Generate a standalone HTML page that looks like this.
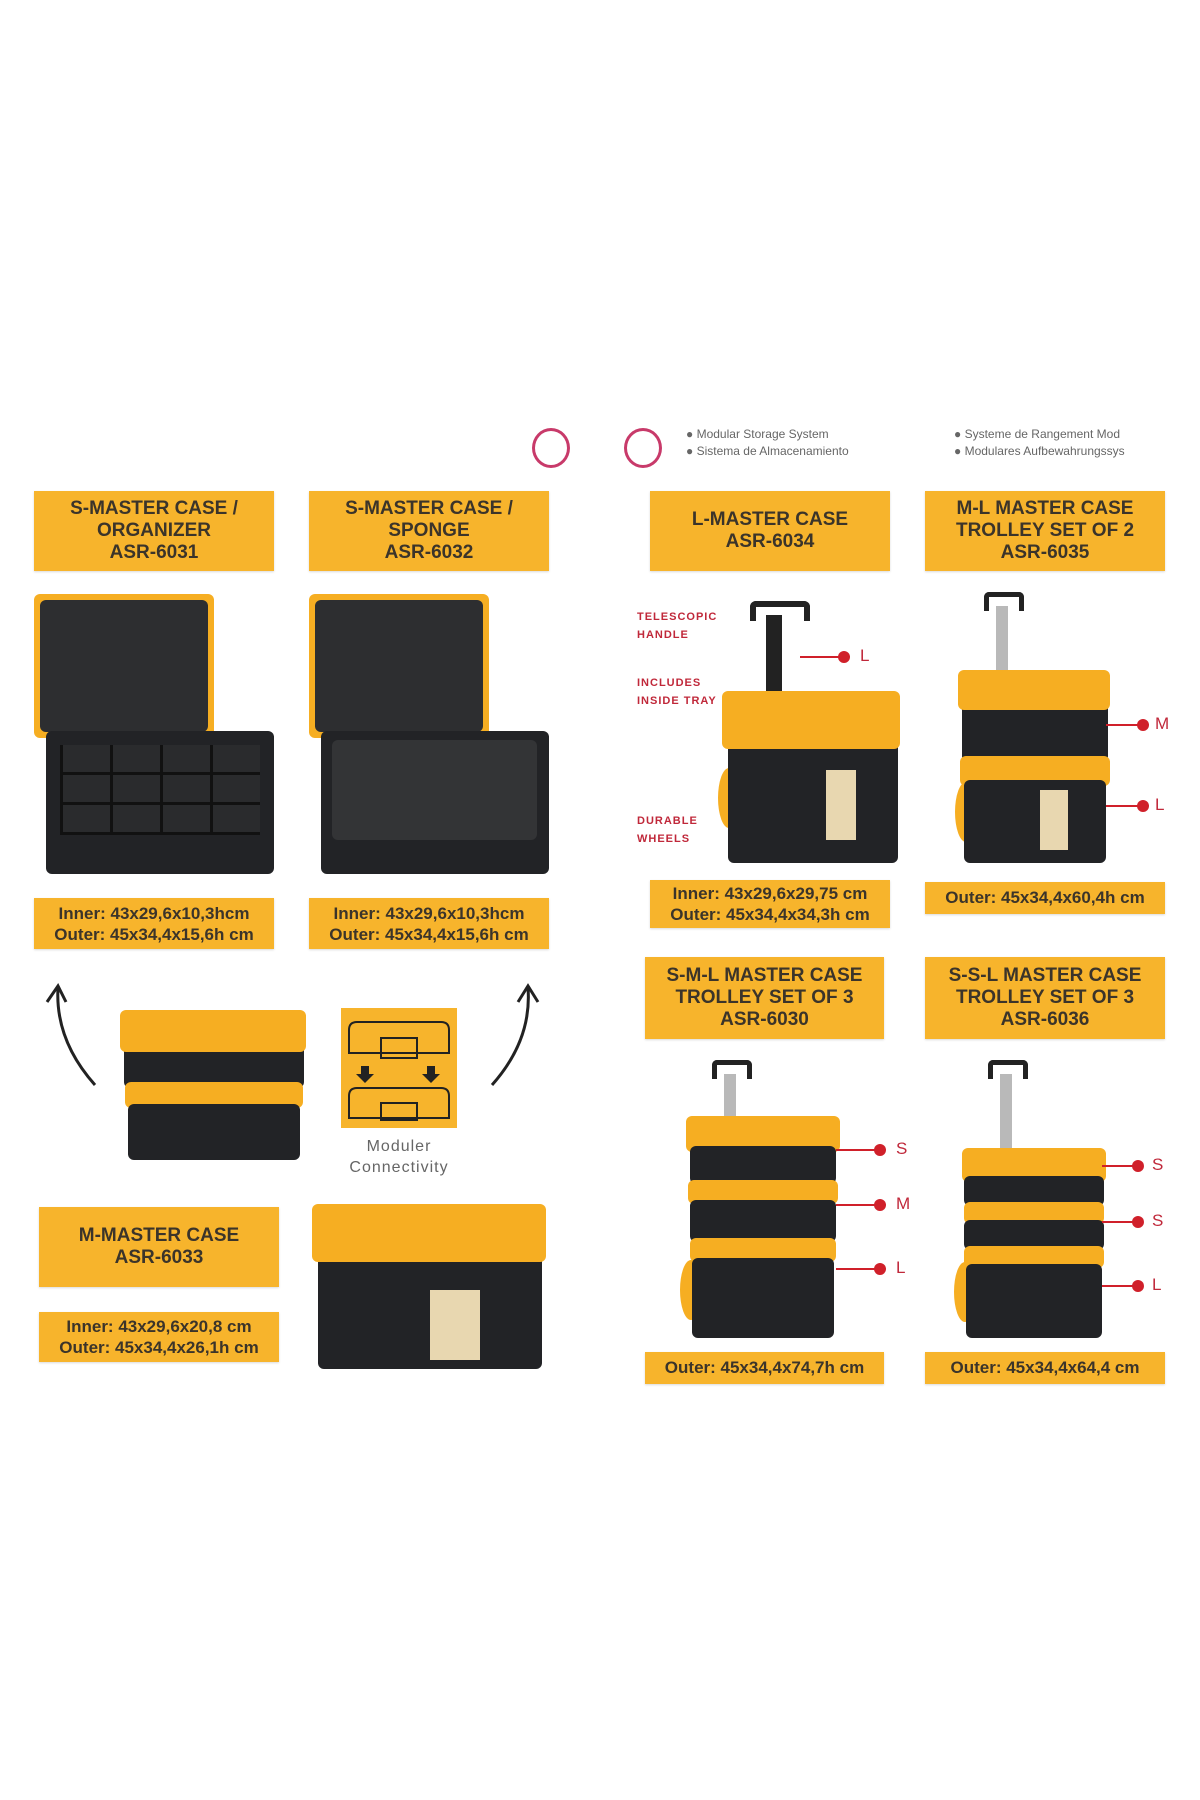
<!DOCTYPE html>
<html><head><meta charset="utf-8"><style>
body{margin:0;background:#fff;}
#p{position:relative;width:1200px;height:1800px;overflow:hidden;font-family:"Liberation Sans",sans-serif;}
.a{position:absolute;}
.lb{position:absolute;background:#f7b42c;color:#3b342a;font-weight:bold;font-size:19px;line-height:22px;text-align:center;display:flex;align-items:center;justify-content:center;box-shadow:0 1px 2px rgba(0,0,0,.15);}
.dk{position:absolute;background:#222326;border-radius:6px;}
.or{position:absolute;background:#f6ae22;border-radius:6px;}
.rl{position:absolute;height:2px;background:#d0202a;}
.rd{position:absolute;width:12px;height:12px;border-radius:50%;background:#d0202a;}
.lt{position:absolute;color:#c0283a;font-size:17px;}
.red{position:absolute;color:#c0283a;font-size:11px;font-weight:bold;letter-spacing:1px;line-height:18px;}
.bl{position:absolute;color:#666;font-size:12px;line-height:17px;}
</style></head><body><div id="p">
<div class="a" style="left:532px;top:428px;width:32px;height:34px;border:3px solid #c83a6a;border-radius:50%;"></div>
<div class="a" style="left:624px;top:428px;width:32px;height:34px;border:3px solid #c83a6a;border-radius:50%;"></div>
<div class="bl" style="left:686px;top:426px;">● Modular Storage System<br>● Sistema de Almacenamiento</div>
<div class="bl" style="left:954px;top:426px;">● Systeme de Rangement Mod<br>● Modulares Aufbewahrungssys</div>

<div class="lb" style="left:34px;top:491px;width:240px;height:80px;">S-MASTER CASE /<br>ORGANIZER<br>ASR-6031</div>
<div class="lb" style="left:309px;top:491px;width:240px;height:80px;">S-MASTER CASE /<br>SPONGE<br>ASR-6032</div>
<div class="lb" style="left:650px;top:491px;width:240px;height:80px;">L-MASTER CASE<br>ASR-6034</div>
<div class="lb" style="left:925px;top:491px;width:240px;height:80px;">M-L MASTER CASE<br>TROLLEY SET OF 2<br>ASR-6035</div>

<div class="or" style="left:34px;top:594px;width:180px;height:144px;"></div>
<div class="dk" style="left:40px;top:600px;width:168px;height:132px;background:#2d2e30;"></div>
<div class="dk" style="left:46px;top:731px;width:228px;height:143px;"></div>
<div class="a" style="left:60px;top:745px;width:200px;height:90px;background:repeating-linear-gradient(90deg,#111 0 3px,transparent 3px 50px),repeating-linear-gradient(0deg,#111 0 3px,#2a2b2d 3px 30px);"></div>
<div class="or" style="left:309px;top:594px;width:180px;height:144px;"></div>
<div class="dk" style="left:315px;top:600px;width:168px;height:132px;background:#2d2e30;"></div>
<div class="dk" style="left:321px;top:731px;width:228px;height:143px;"></div>
<div class="a" style="left:332px;top:740px;width:205px;height:100px;background:#333436;border-radius:6px;"></div>

<div class="lb" style="left:34px;top:898px;width:240px;height:51px;font-size:17px;line-height:21px;">Inner: 43x29,6x10,3hcm<br>Outer: 45x34,4x15,6h cm</div>
<div class="lb" style="left:309px;top:898px;width:240px;height:51px;font-size:17px;line-height:21px;">Inner: 43x29,6x10,3hcm<br>Outer: 45x34,4x15,6h cm</div>

<div class="red" style="left:637px;top:608px;">TELESCOPIC<br>HANDLE</div>
<div class="red" style="left:637px;top:674px;">INCLUDES<br>INSIDE TRAY</div>
<div class="red" style="left:637px;top:812px;">DURABLE<br>WHEELS</div>
<div class="a" style="left:750px;top:601px;width:48px;height:14px;border:6px solid #222;border-bottom:none;border-radius:6px 6px 0 0;"></div>
<div class="a" style="left:766px;top:615px;width:16px;height:90px;background:#222;"></div>
<div class="or" style="left:718px;top:768px;width:22px;height:60px;border-radius:50%;"></div>
<div class="dk" style="left:728px;top:730px;width:170px;height:133px;"></div>
<div class="or" style="left:722px;top:691px;width:178px;height:58px;"></div>
<div class="a" style="left:826px;top:770px;width:30px;height:70px;background:#e8d7b0;"></div>
<div class="rl" style="left:800px;top:656px;width:42px;"></div><div class="rd" style="left:838px;top:651px;"></div>
<div class="lt" style="left:860px;top:646px;">L</div>

<div class="a" style="left:984px;top:592px;width:30px;height:14px;border:5px solid #222;border-bottom:none;border-radius:5px 5px 0 0;"></div>
<div class="a" style="left:996px;top:606px;width:12px;height:80px;background:#b9b9b9;"></div>
<div class="or" style="left:955px;top:782px;width:22px;height:60px;border-radius:50%;"></div>
<div class="dk" style="left:962px;top:700px;width:146px;height:62px;"></div>
<div class="or" style="left:958px;top:670px;width:152px;height:40px;"></div>
<div class="or" style="left:960px;top:756px;width:150px;height:30px;"></div>
<div class="dk" style="left:964px;top:780px;width:142px;height:83px;"></div>
<div class="a" style="left:1040px;top:790px;width:28px;height:60px;background:#e8d7b0;"></div>
<div class="rl" style="left:1106px;top:724px;width:38px;"></div><div class="rd" style="left:1137px;top:719px;"></div>
<div class="lt" style="left:1155px;top:714px;">M</div>
<div class="rl" style="left:1106px;top:805px;width:38px;"></div><div class="rd" style="left:1137px;top:800px;"></div>
<div class="lt" style="left:1155px;top:795px;">L</div>

<div class="lb" style="left:650px;top:880px;width:240px;height:48px;font-size:17px;line-height:21px;">Inner: 43x29,6x29,75 cm<br>Outer: 45x34,4x34,3h cm</div>
<div class="lb" style="left:925px;top:882px;width:240px;height:32px;font-size:17px;">Outer: 45x34,4x60,4h cm</div>

<svg class="a" style="left:0;top:970px;" width="560" height="130"><g fill="none" stroke="#222" stroke-width="3"><path d="M95 115 Q55 70 58 18"/><path d="M47 32 L58 16 L66 32"/><path d="M492 115 Q532 70 528 18"/><path d="M518 32 L528 16 L538 32"/></g></svg>

<div class="dk" style="left:124px;top:1040px;width:180px;height:48px;"></div>
<div class="or" style="left:120px;top:1010px;width:186px;height:42px;"></div>
<div class="or" style="left:125px;top:1082px;width:178px;height:26px;"></div>
<div class="dk" style="left:128px;top:1104px;width:172px;height:56px;"></div>

<div class="a" style="left:341px;top:1008px;width:116px;height:120px;background:#f7b42c;"></div>
<svg class="a" style="left:341px;top:1008px;" width="116" height="120"><g fill="none" stroke="#222" stroke-width="2"><path d="M8 45 V22 Q8 14 16 14 H100 Q108 14 108 22 V45 Z"/><path d="M40 30 H76 V50 H40Z"/><path d="M8 110 V88 Q8 80 16 80 H100 Q108 80 108 88 V110 Z"/><path d="M40 95 H76 V112 H40Z"/></g><path d="M20 58 h8 v8 h5 l-9 9 -9-9 h5z M86 58 h8 v8 h5 l-9 9 -9-9 h5z" fill="#222"/></svg>
<div class="a" style="left:330px;top:1136px;width:138px;text-align:center;color:#666;font-size:16px;line-height:21px;letter-spacing:1px;">Moduler<br>Connectivity</div>

<div class="lb" style="left:39px;top:1207px;width:240px;height:80px;">M-MASTER CASE<br>ASR-6033</div>
<div class="lb" style="left:39px;top:1312px;width:240px;height:50px;font-size:17px;line-height:21px;">Inner: 43x29,6x20,8 cm<br>Outer: 45x34,4x26,1h cm</div>
<div class="dk" style="left:318px;top:1250px;width:224px;height:119px;"></div>
<div class="or" style="left:312px;top:1204px;width:234px;height:58px;"></div>
<div class="a" style="left:430px;top:1290px;width:50px;height:70px;background:#e8d7b0;"></div>

<div class="lb" style="left:645px;top:957px;width:239px;height:82px;">S-M-L MASTER CASE<br>TROLLEY SET OF 3<br>ASR-6030</div>
<div class="lb" style="left:925px;top:957px;width:240px;height:82px;">S-S-L MASTER CASE<br>TROLLEY SET OF 3<br>ASR-6036</div>

<div class="a" style="left:712px;top:1060px;width:30px;height:14px;border:5px solid #222;border-bottom:none;border-radius:5px 5px 0 0;"></div>
<div class="a" style="left:724px;top:1074px;width:12px;height:50px;background:#b9b9b9;"></div>
<div class="or" style="left:680px;top:1260px;width:22px;height:60px;border-radius:50%;"></div>
<div class="or" style="left:686px;top:1116px;width:154px;height:36px;"></div>
<div class="dk" style="left:690px;top:1146px;width:146px;height:38px;"></div>
<div class="or" style="left:688px;top:1180px;width:150px;height:24px;"></div>
<div class="dk" style="left:690px;top:1200px;width:146px;height:42px;"></div>
<div class="or" style="left:690px;top:1238px;width:146px;height:24px;"></div>
<div class="dk" style="left:692px;top:1258px;width:142px;height:80px;"></div>
<div class="rl" style="left:836px;top:1149px;width:44px;"></div><div class="rd" style="left:874px;top:1144px;"></div><div class="lt" style="left:896px;top:1139px;">S</div>
<div class="rl" style="left:836px;top:1204px;width:44px;"></div><div class="rd" style="left:874px;top:1199px;"></div><div class="lt" style="left:896px;top:1194px;">M</div>
<div class="rl" style="left:836px;top:1268px;width:44px;"></div><div class="rd" style="left:874px;top:1263px;"></div><div class="lt" style="left:896px;top:1258px;">L</div>

<div class="a" style="left:988px;top:1060px;width:30px;height:14px;border:5px solid #222;border-bottom:none;border-radius:5px 5px 0 0;"></div>
<div class="a" style="left:1000px;top:1074px;width:12px;height:76px;background:#b9b9b9;"></div>
<div class="or" style="left:954px;top:1262px;width:22px;height:60px;border-radius:50%;"></div>
<div class="or" style="left:962px;top:1148px;width:144px;height:34px;"></div>
<div class="dk" style="left:964px;top:1176px;width:140px;height:30px;"></div>
<div class="or" style="left:964px;top:1202px;width:140px;height:22px;"></div>
<div class="dk" style="left:964px;top:1220px;width:140px;height:30px;"></div>
<div class="or" style="left:964px;top:1246px;width:140px;height:22px;"></div>
<div class="dk" style="left:966px;top:1264px;width:136px;height:74px;"></div>
<div class="rl" style="left:1102px;top:1165px;width:38px;"></div><div class="rd" style="left:1132px;top:1160px;"></div><div class="lt" style="left:1152px;top:1155px;">S</div>
<div class="rl" style="left:1102px;top:1221px;width:38px;"></div><div class="rd" style="left:1132px;top:1216px;"></div><div class="lt" style="left:1152px;top:1211px;">S</div>
<div class="rl" style="left:1102px;top:1285px;width:38px;"></div><div class="rd" style="left:1132px;top:1280px;"></div><div class="lt" style="left:1152px;top:1275px;">L</div>

<div class="lb" style="left:645px;top:1352px;width:239px;height:32px;font-size:17px;">Outer: 45x34,4x74,7h cm</div>
<div class="lb" style="left:925px;top:1352px;width:240px;height:32px;font-size:17px;">Outer: 45x34,4x64,4 cm</div>
</div></body></html>
